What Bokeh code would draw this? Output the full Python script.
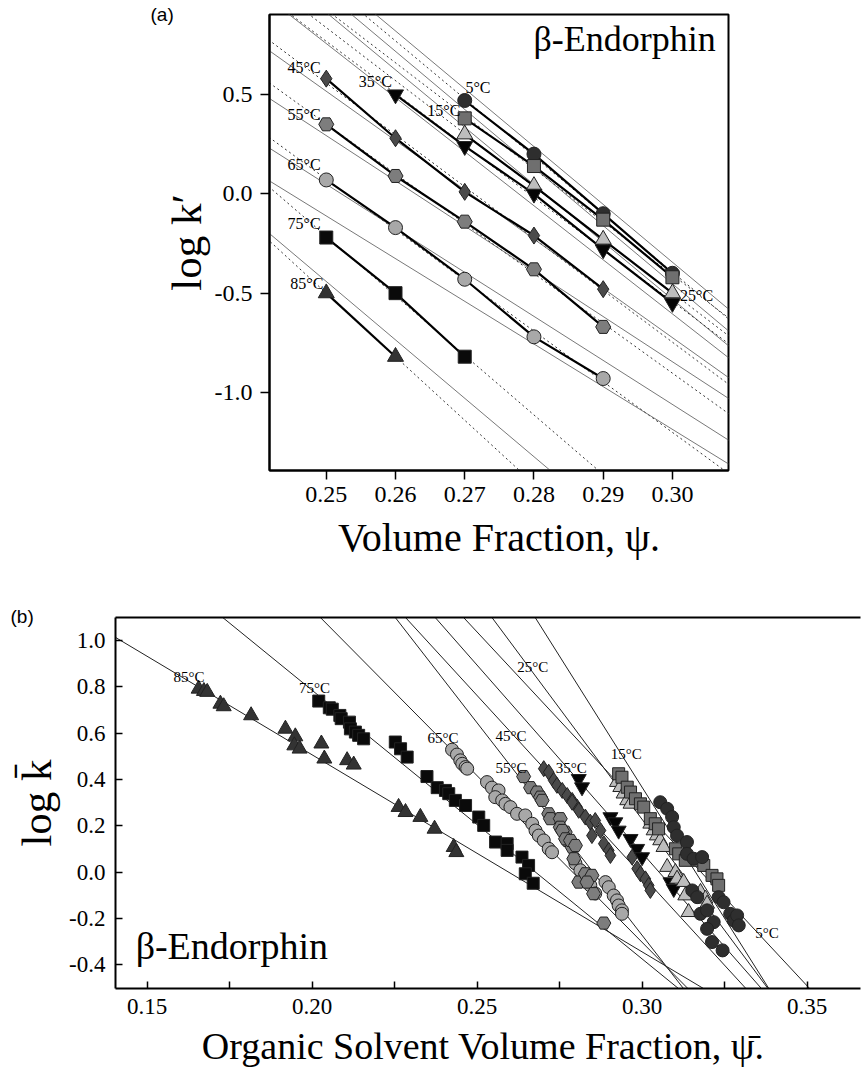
import numpy as np
from bokeh.plotting import figure
from bokeh.layouts import column, row
from bokeh.models import Label, FixedTicker, PrintfTickFormatter, Range1d, LinearAxis, ColumnDataSource, Title
from bokeh.embed import file_html
from bokeh.resources import INLINE
from bokeh.core.properties import value

SERIF = "Liberation Serif"

# ---------------- data: panel (a) ----------------
temps = [5, 15, 25, 35, 45, 55, 65, 75, 85]
a_x = {
    5: [0.27, 0.28, 0.29, 0.30],
    15: [0.27, 0.28, 0.29, 0.30],
    25: [0.27, 0.28, 0.29, 0.30],
    35: [0.26, 0.27, 0.28, 0.29, 0.30],
    45: [0.25, 0.26, 0.27, 0.28, 0.29],
    55: [0.25, 0.26, 0.27, 0.28, 0.29],
    65: [0.25, 0.26, 0.27, 0.28, 0.29],
    75: [0.25, 0.26, 0.27],
    85: [0.25, 0.26],
}
a_y = {
    5: [0.47, 0.20, -0.10, -0.40],
    15: [0.38, 0.14, -0.13, -0.42],
    25: [0.30, 0.04, -0.23, -0.50],
    35: [0.50, 0.24, 0.00, -0.28, -0.55],
    45: [0.58, 0.28, 0.01, -0.21, -0.48],
    55: [0.35, 0.09, -0.14, -0.38, -0.67],
    65: [0.07, -0.17, -0.43, -0.72, -0.93],
    75: [-0.22, -0.50, -0.82],
    85: [-0.50, -0.82],
}
a_ticks_x = [0.25, 0.26, 0.27, 0.28, 0.29, 0.30]
a_ticks_y = [0.5, 0.0, -0.5, -1.0]
# thin model lines in (a): log k' at psi = 0.2418 (left) and 0.3081 (right)
a_thin_left = [1.35, 1.25, 1.15, 0.98, 0.72, 0.48, 0.23, 0.065, -0.20]
a_thin_right = [-0.58, -0.69, -0.765, -0.825, -0.925, -1.03, -1.24, -1.36, -2.15]
a_lab_x = [0.2701, 0.2646, 0.3011, 0.2547, 0.2444, 0.2444, 0.2444, 0.2444, 0.2448]
a_lab_y = [0.533, 0.42, -0.513, 0.568, 0.634, 0.40, 0.15, -0.15, -0.453]

# ---------------- data: panel (b) ----------------
b_x = {
    85: [0.1656, 0.1672, 0.1682, 0.1722, 0.1732, 0.1815, 0.1919, 0.1949, 0.1946, 0.1962, 0.2028, 0.2037,
         0.2106, 0.2126, 0.2262, 0.2283, 0.2328, 0.2371, 0.2429, 0.2437],
    75: [0.2020, 0.2052, 0.2061, 0.2084, 0.2088, 0.2113, 0.2116, 0.2131, 0.2141, 0.2156, 0.2252, 0.2268,
         0.2288, 0.2348, 0.2379, 0.2404, 0.2414, 0.2434, 0.2465, 0.2505, 0.2520, 0.2556, 0.2591, 0.2591,
         0.2636, 0.2656, 0.2646, 0.2670],
    65: [0.2424, 0.2439, 0.2449, 0.2455, 0.2465, 0.2470, 0.2530, 0.2545, 0.2565, 0.2555, 0.2576, 0.2586,
         0.2601, 0.2621, 0.2646, 0.2667, 0.2677, 0.2687, 0.2702, 0.2717, 0.2727, 0.2798, 0.2813, 0.2828,
         0.2843, 0.2858, 0.2889, 0.2899, 0.2914, 0.2924, 0.2929, 0.2939, 0.2939],
    55: [0.2641, 0.2662, 0.2682, 0.2692, 0.2697, 0.2717, 0.2722, 0.2752, 0.2752, 0.2767, 0.2773, 0.2788,
         0.2758, 0.2768, 0.2783, 0.2798, 0.2793, 0.2808, 0.2828, 0.2848, 0.2833, 0.2853, 0.2884],
    45: [0.2702, 0.2717, 0.2732, 0.2742, 0.2758, 0.2773, 0.2788, 0.2803, 0.2788, 0.2808, 0.2828, 0.2843,
         0.2858, 0.2874, 0.2848, 0.2884, 0.2899, 0.2904, 0.2970, 0.2985, 0.2995, 0.3010, 0.3020, 0.3025],
    35: [0.2808, 0.2818, 0.2904, 0.2919, 0.2929, 0.2965, 0.2985, 0.3000, 0.3086, 0.3096],
    25: [0.2924, 0.2934, 0.2944, 0.2955, 0.2965, 0.3025, 0.3035, 0.3045, 0.3055, 0.3065, 0.3076, 0.3101,
         0.3106, 0.3126, 0.3131, 0.3141, 0.3177, 0.3192, 0.3197],
    15: [0.2929, 0.2939, 0.2955, 0.2965, 0.2980, 0.2995, 0.3005, 0.3025, 0.3040, 0.3050, 0.3101, 0.3111,
         0.3131, 0.3167, 0.3187, 0.3212, 0.3227, 0.3232],
    5: [0.3055, 0.3076, 0.3091, 0.3096, 0.3106, 0.3136, 0.3136, 0.3156, 0.3182, 0.3152, 0.3167, 0.3177,
        0.3197, 0.3217, 0.3197, 0.3212, 0.3244, 0.3232, 0.3247, 0.3267, 0.3278, 0.3288, 0.3293],
}
b_y = {
    85: [0.792, 0.782, 0.778, 0.727, 0.716, 0.677, 0.619, 0.586, 0.547, 0.533, 0.555, 0.490,
         0.483, 0.464, 0.281, 0.259, 0.238, 0.187, 0.108, 0.086],
    75: [0.739, 0.710, 0.704, 0.677, 0.663, 0.648, 0.619, 0.605, 0.591, 0.576, 0.562, 0.533,
         0.497, 0.413, 0.365, 0.353, 0.339, 0.310, 0.288, 0.238, 0.202, 0.130, 0.123, 0.094,
         0.065, 0.029, -0.007, -0.048],
    65: [0.529, 0.508, 0.483, 0.468, 0.454, 0.447, 0.389, 0.365, 0.353, 0.324, 0.310, 0.295,
         0.281, 0.252, 0.245, 0.209, 0.180, 0.158, 0.137, 0.101, 0.086, 0.038, 0.008, -0.023,
         -0.057, -0.092, -0.043, -0.065, -0.101, -0.122, -0.144, -0.165, -0.180],
    55: [0.413, 0.365, 0.346, 0.324, 0.310, 0.252, 0.231, 0.231, 0.194, 0.173, 0.137, 0.108,
         0.180, 0.144, 0.137, 0.115, 0.058, -0.043, -0.007, -0.014, -0.043, -0.093, -0.220],
    45: [0.447, 0.432, 0.396, 0.375, 0.353, 0.331, 0.310, 0.281, 0.302, 0.267, 0.238, 0.216,
         0.223, 0.180, 0.158, 0.123, 0.094, 0.072, 0.065, 0.015, -0.007, -0.029, -0.057, -0.079],
    35: [0.403, 0.367, 0.238, 0.216, 0.180, 0.144, 0.101, 0.065, -0.043, -0.072],
    25: [0.389, 0.367, 0.339, 0.310, 0.295, 0.209, 0.180, 0.158, 0.137, 0.108, 0.022, 0.000,
         -0.029, -0.043, -0.101, -0.173, -0.086, -0.115, -0.137],
    15: [0.425, 0.410, 0.367, 0.346, 0.317, 0.295, 0.281, 0.231, 0.209, 0.187, 0.101, 0.079,
         0.051, 0.051, 0.029, -0.014, -0.029, -0.057],
    5: [0.302, 0.274, 0.238, 0.194, 0.158, 0.130, 0.079, 0.058, 0.065, -0.079, -0.108, -0.180,
        -0.165, -0.216, -0.245, -0.302, -0.338, -0.108, -0.130, -0.180, -0.209, -0.187, -0.230],
}
b_ticks_x = [0.15, 0.20, 0.25, 0.30, 0.35]
b_minor_x = [0.175, 0.225, 0.275, 0.325]
b_ticks_y = [1.0, 0.8, 0.6, 0.4, 0.2, 0.0, -0.2, -0.4]
# model lines in (b): two points each (upper point, lower point at -0.5)
b_line_x1 = [0.2459, 0.2676, 0.2545, 0.2373, 0.2283, 0.2252, 0.2025, 0.1729, 0.1404]
b_line_y1 = [1.10, 1.10, 1.10, 1.10, 1.10, 1.10, 1.10, 1.10, 1.014]
b_line_x2 = [0.3506, 0.3383, 0.3380, 0.3360, 0.3313, 0.3124, 0.3137, 0.3108, 0.3183]
b_line_y2 = [-0.5] * 9
b_lab_x = [0.3343, 0.2905, 0.2622, 0.2738, 0.2556, 0.2556, 0.2350, 0.1960, 0.1580]
b_lab_y = [-0.265, 0.51, 0.885, 0.45, 0.59, 0.45, 0.58, 0.797, 0.845]

styles = {
    5: ("circle", "#2e2e2e"),
    15: ("square", "#6f6f6f"),
    25: ("triangle", "#bdbdbd"),
    35: ("inverted_triangle", "#050505"),
    45: ("diamond", "#4a4a4a"),
    55: ("hex", "#7d7d7d"),
    65: ("circle", "#a8a8a8"),
    75: ("square", "#0a0a0a"),
    85: ("triangle", "#333333"),
}
size_adj = {"circle": 0, "square": -1, "triangle": 2, "inverted_triangle": 2, "diamond": 3, "hex": 1}


def make_axis(ticks, minor, fmt, label, label_size, tick_size, tin, tout, lstand, astand):
    return LinearAxis(
        ticker=FixedTicker(ticks=ticks, minor_ticks=minor),
        formatter=PrintfTickFormatter(format=fmt),
        axis_label=label,
        axis_label_text_font=SERIF, axis_label_text_font_size=label_size,
        axis_label_text_font_style="normal", axis_label_text_color="black",
        axis_label_standoff=astand,
        major_label_text_font=SERIF, major_label_text_font_size=tick_size,
        major_label_text_font_style="normal", major_label_text_color="black",
        major_label_standoff=lstand,
        axis_line_width=2, axis_line_color="black",
        major_tick_line_width=1.5, minor_tick_line_width=1.5,
        major_tick_in=tin, major_tick_out=tout, minor_tick_in=tin, minor_tick_out=tout,
    )


# ---------------- panel (a) ----------------
xa0, xa1 = 0.2418, 0.3081
p1 = figure(width=865, height=580, x_range=Range1d(xa0, xa1), y_range=Range1d(-1.393, 0.903),
            output_backend="svg", toolbar_location=None, x_axis_location=None, y_axis_location=None,
            min_border_left=269, min_border_right=137, min_border_top=14, min_border_bottom=110)
p1.xgrid.visible = False
p1.ygrid.visible = False
p1.outline_line_color = "black"
p1.outline_line_width = 2
p1.add_layout(make_axis(a_ticks_x, [], "%.2f", "Volume Fraction, ψ.", "40px", "24px", 0, 9, 7, 10), "below")
p1.add_layout(make_axis(a_ticks_y, [], "%.1f", "log k′", "43px", "24px", 0, 9, 8, 2), "left")
p1.add_layout(Title(text="(a)", align="left", offset=-119, standoff=-20, text_font="Liberation Sans",
                    text_font_size="19px", text_font_style="normal", text_color="black"), "above")

xs_full = np.array([xa0 - 0.01, xa1 + 0.01])
for i, T in enumerate(temps):
    xx = np.array(a_x[T])
    yy = np.array(a_y[T])
    # linear fit (dotted)
    k, b0 = np.polyfit(xx, yy, 1)
    p1.line(xs_full, k * xs_full + b0, line_dash="2 3", line_color="#333333", line_width=1)
    # thin model line
    sl = (a_thin_right[i] - a_thin_left[i]) / (xa1 - xa0)
    p1.line(xs_full, a_thin_left[i] + sl * (xs_full - xa0), line_color="#555555", line_width=0.8)
for T in temps:
    p1.line(a_x[T], a_y[T], line_color="black", line_width=2.2)
for T in temps:
    m, c = styles[T]
    p1.scatter(a_x[T], a_y[T], marker=m, size=14 + size_adj[m], fill_color=c,
               line_color="#222222", line_width=1)
src_a = ColumnDataSource(dict(x=a_lab_x, y=a_lab_y, t=[f"{T}°C" for T in temps]))
p1.text(x="x", y="y", text="t", source=src_a, text_font=value(SERIF),
        text_font_size=value("16px"), text_baseline="middle", text_align="left", text_color="black")
p1.add_layout(Label(x=0.30625, y=0.78, text="β-Endorphin", text_font=SERIF, text_font_size="36px",
                    text_align="right", text_baseline="middle", text_color="black"))

# ---------------- panel (b) ----------------
p2 = figure(width=865, height=499, x_range=Range1d(0.1404, 0.3662), y_range=Range1d(-0.5026, 1.10),
            output_backend="svg", toolbar_location=None, x_axis_location=None, y_axis_location=None,
            min_border_left=115, min_border_right=5, min_border_top=37, min_border_bottom=91)
p2.xgrid.visible = False
p2.ygrid.visible = False
p2.outline_line_color = None
p2.add_layout(make_axis(b_ticks_x, b_minor_x, "%.2f", "Organic Solvent Volume Fraction,  ψ̄.", "38px",
                        "23px", 7, 0, 10, 8), "below")
p2.add_layout(make_axis(b_ticks_y, [], "%.1f", "log k̄", "43px", "23px", 7, 0, 10, 6), "left")
top_ax = LinearAxis(ticker=FixedTicker(ticks=[]), major_label_text_font_size="0px",
                    axis_line_width=2, major_tick_line_color=None, minor_tick_line_color=None)
p2.add_layout(top_ax, "above")
p2.add_layout(Title(text="(b)", align="left", offset=-105, standoff=-19, text_font="Liberation Sans",
                    text_font_size="19px", text_font_style="normal", text_color="black"), "above")

xs_b = np.array([0.12, 0.40])
for i in range(len(temps)):
    sl = (b_line_y2[i] - b_line_y1[i]) / (b_line_x2[i] - b_line_x1[i])
    p2.line(xs_b, b_line_y1[i] + sl * (xs_b - b_line_x1[i]), line_color="#222222", line_width=1)
for T in temps[::-1]:
    m, c = styles[T]
    p2.scatter(b_x[T], b_y[T], marker=m, size=13 + size_adj[m], fill_color=c,
               line_color="#222222", line_width=1)
src_b = ColumnDataSource(dict(x=b_lab_x, y=b_lab_y, t=[f"{T}°C" for T in temps]))
p2.text(x="x", y="y", text="t", source=src_b, text_font=value(SERIF),
        text_font_size=value("15px"), text_baseline="middle", text_align="left", text_color="black")
p2.add_layout(Label(x=0.1465, y=-0.317, text="β-Endorphin", text_font=SERIF, text_font_size="38px",
                    text_align="left", text_baseline="middle", text_color="black"))

layout = column(row(p1), row(p2))
open("out.html", "w").write(file_html(layout, INLINE))
